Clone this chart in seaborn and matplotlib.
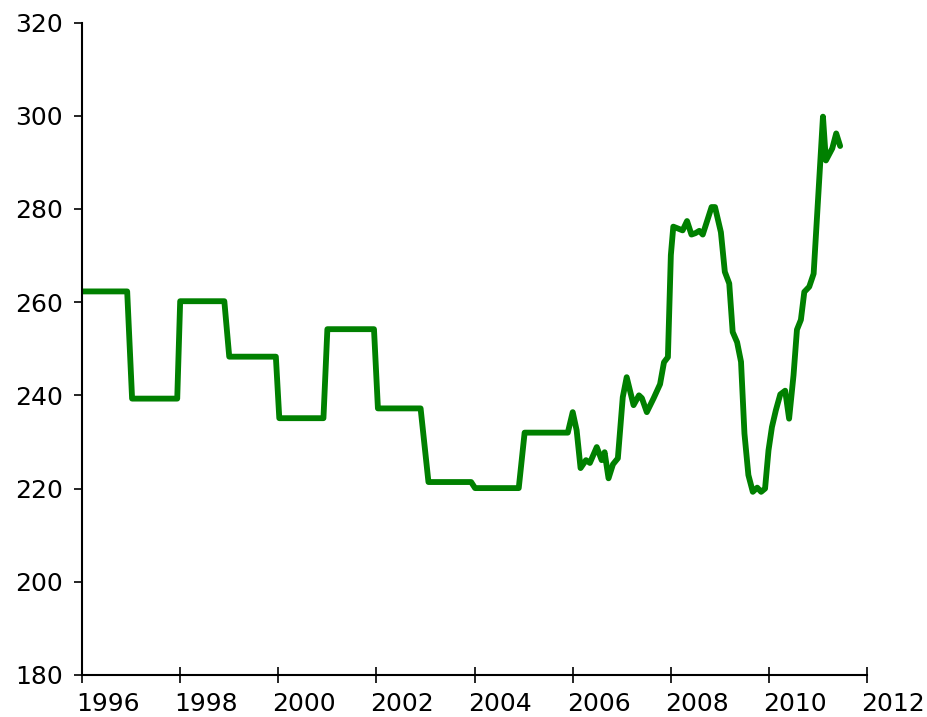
import matplotlib
matplotlib.use("Agg")
import matplotlib.pyplot as plt
import matplotlib.transforms as mtrans
import seaborn as sns
import pandas as pd

# decimal years and index values
years = [1996.0, 1996.92, 1997.02, 1997.94, 1998.0, 1998.9, 1999.0, 1999.95,
         2000.02, 2000.92, 2001.0, 2001.95, 2002.03, 2002.9, 2003.06, 2003.93,
         2004.01, 2004.9, 2005.02, 2005.9, 2006.0, 2006.08, 2006.16, 2006.27,
         2006.35, 2006.49, 2006.59, 2006.65, 2006.73, 2006.82, 2006.92, 2007.02,
         2007.1, 2007.24, 2007.35, 2007.41, 2007.51, 2007.65, 2007.78, 2007.86,
         2007.94, 2008.0, 2008.05, 2008.24, 2008.33, 2008.42, 2008.5, 2008.58,
         2008.65, 2008.83, 2008.9, 2009.02, 2009.1, 2009.19, 2009.26, 2009.35,
         2009.43, 2009.5, 2009.58, 2009.67, 2009.76, 2009.84, 2009.92, 2009.99,
         2010.06, 2010.14, 2010.23, 2010.33, 2010.41, 2010.5, 2010.57, 2010.65,
         2010.72, 2010.82, 2010.91, 2011.1, 2011.16, 2011.29, 2011.37, 2011.45]
values = [262.3, 262.3, 239.3, 239.3, 260.2, 260.2, 248.3, 248.3,
          235.1, 235.1, 254.2, 254.2, 237.2, 237.2, 221.4, 221.4,
          220.1, 220.1, 232.0, 232.0, 236.4, 232.5, 224.4, 226.1,
          225.5, 228.9, 226.1, 227.8, 222.2, 225.2, 226.5, 239.6,
          243.9, 237.9, 240.0, 239.4, 236.4, 239.4, 242.4, 247.1,
          248.2, 270.1, 276.2, 275.4, 277.4, 274.5, 274.8, 275.3,
          274.5, 280.4, 280.4, 275.0, 266.5, 264.0, 253.6, 251.4,
          247.2, 231.8, 222.9, 219.3, 220.2, 219.3, 220.0, 228.2,
          233.2, 236.8, 240.2, 241.0, 235.0, 244.3, 254.1, 256.2,
          262.2, 263.3, 266.1, 299.8, 290.4, 293.0, 296.2, 293.5]

df = pd.DataFrame({"year": years, "value": values})

sns.set_style("ticks")
plt.rcParams["font.family"] = ["DejaVu Sans"]

fig = plt.figure(figsize=(9.28, 7.17), dpi=100)
ax = fig.add_axes([0.0884, 0.0586, 0.846, 0.91])

sns.lineplot(data=df, x="year", y="value", ax=ax, color="#008000",
             linewidth=4.2, sort=False)

ax.set_xlim(1996, 2012)
ax.set_ylim(180, 320)
ax.set_xticks(range(1996, 2013, 2))
ax.set_yticks(range(180, 321, 20))
ax.set_xlabel("")
ax.set_ylabel("")
ax.tick_params(axis="x", direction="inout", length=12, width=1.2,
               labelsize=18, colors="black", pad=6)
ax.tick_params(axis="y", direction="out", length=6, width=1.2,
               labelsize=18, colors="black", pad=8)
sns.despine(ax=ax)
for s in ("left", "bottom"):
    ax.spines[s].set_linewidth(1.5)
    ax.spines[s].set_color("black")

# year labels start just left of their tick, as in the original
shift = mtrans.ScaledTranslation(-6 / 100, 0, fig.dpi_scale_trans)
for lab in ax.get_xticklabels():
    lab.set_horizontalalignment("left")
    lab.set_transform(lab.get_transform() + shift)

fig.savefig("out.png", dpi=100)
